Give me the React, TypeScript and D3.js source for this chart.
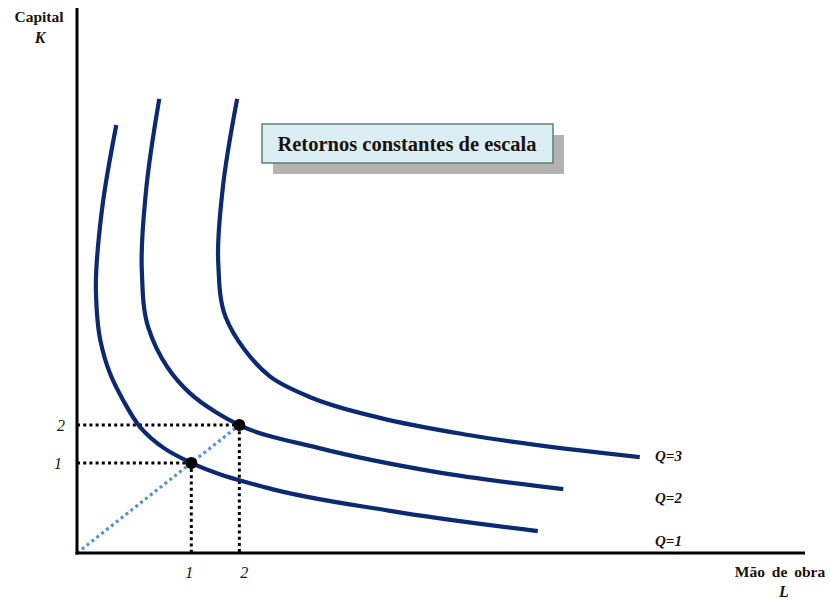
import React from "react";
import * as d3 from "d3";

// Isoquants in abstract input units (L along x, K along y)
const isoQ1: [number, number][] = [
  [0.54, 5.89], [0.34, 4.7], [0.26, 3.6], [0.32, 2.93], [0.45, 2.48],
  [0.63, 2.11], [0.87, 1.73], [1.2, 1.44], [1.57, 1.24], [2.6, 0.9],
  [4.3, 0.58], [6.33, 0.3],
];
const isoQ2: [number, number][] = [
  [1.13, 6.25], [0.95, 5.0], [0.89, 3.9], [0.98, 3.1], [1.24, 2.56],
  [1.55, 2.2], [1.92, 1.93], [2.23, 1.76], [3.3, 1.45], [4.9, 1.12],
  [6.68, 0.88],
];
const isoQ3: [number, number][] = [
  [2.2, 6.25], [2.0, 5.0], [1.94, 4.0], [2.04, 3.25], [2.3, 2.8],
  [2.65, 2.43], [3.24, 2.13], [4.16, 1.86], [5.4, 1.62], [7.73, 1.32],
];
const curveLabels = ["Q=1", "Q=2", "Q=3"];
// Label anchor heights (K units) for the isoquant names
const labelK = [0.17, 0.76, 1.34];

// Input combinations marked on the chart
const combos: { L: number; K: number; label: string }[] = [
  { L: 1.57, K: 1.24, label: "1" },
  { L: 2.23, K: 1.76, label: "2" },
];

const W = 830;
const H = 601;
const x = d3.scaleLinear().domain([0, 10]).range([77, 805]);
const y = d3.scaleLinear().domain([0, 7.5]).range([553, 8]);

const NAVY = "#0b2a6f";
const INK = "#1a1208";
const SERIF = "'Liberation Serif', 'Times New Roman', serif";

export default function App() {
  const line = d3
    .line<[number, number]>()
    .x((d) => x(d[0]))
    .y((d) => y(d[1]))
    .curve(d3.curveCatmullRom.alpha(1));

  const curves = [isoQ1, isoQ2, isoQ3];
  const last = combos[combos.length - 1];

  return (
    <svg
      width={W}
      height={H}
      style={{ position: "absolute", left: 0, top: 0, background: "#fff" }}
      fontFamily={SERIF}
    >
      {/* ray of constant K/L */}
      <line
        x1={x(0)}
        y1={y(0)}
        x2={x(last.L)}
        y2={y(last.K)}
        stroke="#5a8fd0"
        strokeWidth={3.2}
        strokeDasharray="3 3.2"
      />

      {/* reference lines to the axes */}
      {combos.map((c, i) => (
        <g key={i} stroke="#000" strokeWidth={3} strokeDasharray="3 3.2">
          <line x1={x(0)} y1={y(c.K)} x2={x(c.L)} y2={y(c.K)} />
          <line x1={x(c.L)} y1={y(c.K)} x2={x(c.L)} y2={y(0)} />
        </g>
      ))}

      {/* isoquants */}
      {curves.map((c, i) => (
        <path key={i} d={line(c) ?? ""} fill="none" stroke={NAVY} strokeWidth={4.2} />
      ))}

      {/* axes */}
      <line x1={x(0)} y1={8} x2={x(0)} y2={y(0) + 1.5} stroke="#000" strokeWidth={3} />
      <line x1={x(0) - 1.5} y1={y(0)} x2={805} y2={y(0)} stroke="#000" strokeWidth={3} />

      {/* combination points */}
      {combos.map((c, i) => (
        <circle key={i} cx={x(c.L)} cy={y(c.K)} r={6} fill="#000" />
      ))}

      {/* tick labels */}
      {combos.map((c, i) => (
        <g key={i} fontStyle="italic" fontSize={16} fill={INK}>
          <text x={x(c.L) + (i === 0 ? -2 : 5)} y={578} textAnchor="middle">
            {c.label}
          </text>
          <text x={i === 0 ? 58 : 61} y={y(c.K) + 6} textAnchor="middle">
            {c.label}
          </text>
        </g>
      ))}

      {/* isoquant names */}
      {curveLabels.map((t, i) => (
        <text
          key={t}
          x={655}
          y={y(labelK[i]) + 5}
          fontStyle="italic"
          fontWeight="bold"
          fontSize={15}
          fill={INK}
        >
          {t}
        </text>
      ))}

      {/* axis titles */}
      <text x={39} y={22} textAnchor="middle" fontWeight="bold" fontSize={15.5} fill={INK}>
        Capital
      </text>
      <text x={40} y={43} textAnchor="middle" fontWeight="bold" fontStyle="italic" fontSize={16} fill={INK}>
        K
      </text>
      <text x={780} y={577} textAnchor="middle" fontWeight="bold" fontSize={15.5} wordSpacing={3} fill={INK}>
        Mão de obra
      </text>
      <text x={784} y={597} textAnchor="middle" fontWeight="bold" fontStyle="italic" fontSize={16} fill={INK}>
        L
      </text>

      {/* title box with drop shadow */}
      <rect x={273} y={135} width={291} height={39} fill="#b3b3b3" />
      <rect x={262} y={124} width={291} height={39} fill="#dbeef4" stroke="#5f806c" strokeWidth={1.5} />
      <text x={407} y={151} textAnchor="middle" fontWeight="bold" fontSize={20.5} fill={INK}>
        Retornos constantes de escala
      </text>
    </svg>
  );
}
